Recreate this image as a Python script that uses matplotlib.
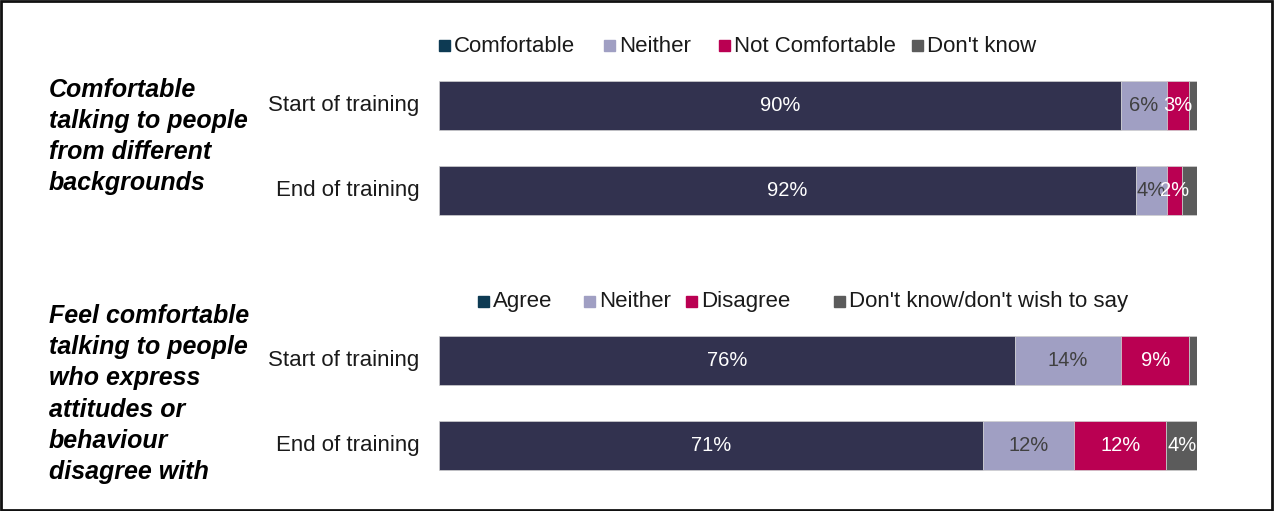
import matplotlib
matplotlib.use("Agg")
import matplotlib.pyplot as plt
from matplotlib.patches import Rectangle

plt.rcParams['font.family'] = ['Liberation Sans', 'DejaVu Sans']

# ---- data ----
rows = ["Start of training", "End of training", "Start of training", "End of training"]
comfortable = [90, 92, 76, 71]
neither = [6, 4, 14, 12]
not_comfortable = [3, 2, 9, 12]
dont_know = [1, 2, 1, 4]

legend_top = ["Comfortable", "Neither", "Not Comfortable", "Don't know"]
legend_bottom = ["Agree", "Neither", "Disagree", "Don't know/don't wish to say"]
group_titles = [
    "Comfortable\ntalking to people\nfrom different\nbackgrounds",
    "Feel comfortable\ntalking to people\nwho express\nattitudes or\nbehaviour\ndisagree with",
]

bar_colors = ["#32324F", "#A09FC3", "#BA0052", "#5B5B5B"]
marker_colors = ["#0D3A53", "#A09FC3", "#BA0052", "#5B5B5B"]
label_colors = ["white", "#404040", "white", "white"]
min_label = [2, 2, 2, 3]

W, H = 1274, 511
fig = plt.figure(figsize=(W / 100, H / 100), dpi=100)

def fx(x):
    return x / W

def fy(y):
    return 1 - y / H

# bar area spans the whole figure height; y units are rows
ax = fig.add_axes([fx(439), 0, fx(1197) - fx(439), 1])
ax.set_xlim(0, 100)
unit = 85.0
y0 = 105.5
ax.set_ylim((H - y0) / unit, -y0 / unit)
ax.axis("off")

positions = [0, 1, 3, 4]
series = [comfortable, neither, not_comfortable, dont_know]
# 100% stacked: each row is scaled to its own total
totals = [sum(col) for col in zip(*series)]
left = [0.0] * len(rows)
for s, vals in enumerate(series):
    widths = [v / t * 100 for v, t in zip(vals, totals)]
    ax.barh(positions, widths, left=left, height=49 / unit, color=bar_colors[s],
            edgecolor="#d0d0d0", linewidth=0.5)
    for i, v in enumerate(vals):
        if v >= min_label[s]:
            ax.text(left[i] + widths[i] / 2, positions[i], f"{v}%", ha="center", va="center",
                    fontsize=14.5, color=label_colors[s])
    left = [l + w for l, w in zip(left, widths)]

# row labels
for p, name in zip(positions, rows):
    ax.text(-2.6, p, name, ha="right", va="center", fontsize=16, color="#1a1a1a")

# group titles
for title, yc in zip(group_titles, [136.5, 394]):
    fig.text(fx(49), fy(yc), title, ha="left", va="center", fontsize=18,
             fontweight="bold", fontstyle="italic", linespacing=1.37, color="black")

# legends
def draw_legend(labels, xs, ycenter):
    for lab, x, c in zip(labels, xs, marker_colors):
        fig.patches.append(Rectangle((fx(x), fy(ycenter + 5.5)), 11 / W, 11 / H,
                                     transform=fig.transFigure, color=c))
        fig.text(fx(x + 15), fy(ycenter), lab, ha="left", va="center",
                 fontsize=16, color="#1a1a1a")

draw_legend(legend_top, [439, 604, 719, 912], 46)
draw_legend(legend_bottom, [478, 584, 686, 834], 301)

# outer frame
fig.patches.append(Rectangle((fx(1), fy(510)), fx(1271), 509 / H, transform=fig.transFigure,
                             fill=False, edgecolor="#111111", linewidth=2))

fig.savefig("out.png", dpi=100)
